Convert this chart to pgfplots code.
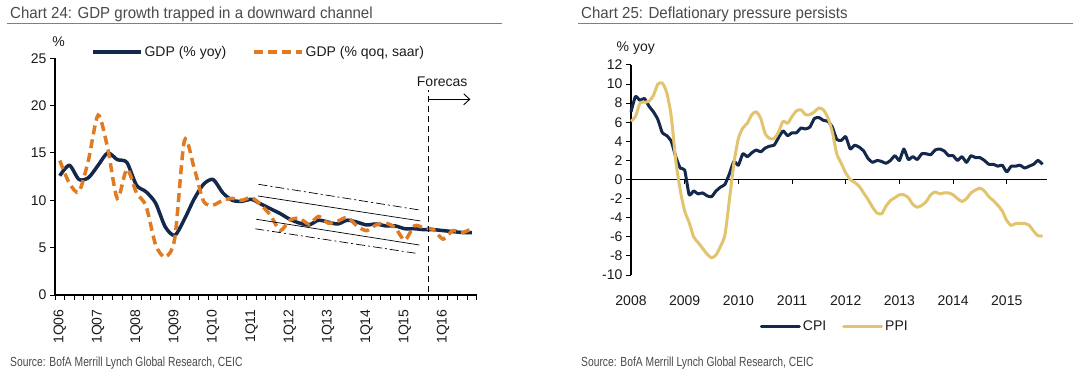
\documentclass[border=0pt]{standalone}
\usepackage{fontspec}
\setmainfont{Liberation Sans}
\newfontfamily\srcfont[FakeStretch=0.78]{Liberation Sans}
\newfontfamily\ttlfont[FakeStretch=0.94]{Liberation Sans}
\usepackage{pgfplots}
\pgfplotsset{compat=1.18}
\usepackage{pgfplotstable}
\usetikzlibrary{arrows.meta}

\definecolor{navy}{HTML}{13284A}
\definecolor{gdporange}{HTML}{E07B22}
\definecolor{ppigold}{HTML}{E2C36E}
\definecolor{rulecol}{HTML}{6A84A3}
\definecolor{txtgray}{HTML}{4A4A4A}
\definecolor{ticktxt}{HTML}{1A1A1A}

\pgfplotstableread{
q yoy qoq
0 12.6 14.2
1 13.7 11.8
2 12.2 10.9
3 12.4 14.3
4 13.7 19.0
5 15.0 15.5
6 14.3 10.2
7 14.0 13.3
8 11.6 10.8
9 10.9 9.4
10 9.7 5.3
11 7.2 4.0
12 6.3 6.0
13 8.0 16.3
14 10.1 13.5
15 11.7 9.9
16 12.2 9.5
17 10.8 10.0
18 10.0 10.2
19 9.9 10.0
20 10.1 10.3
21 9.6 9.5
22 9.1 8.4
23 8.6 6.8
24 8.0 7.9
25 7.6 8.1
26 7.4 7.5
27 7.9 8.3
28 7.7 7.6
29 7.5 7.8
30 7.9 8.2
31 7.7 7.3
32 7.4 6.8
33 7.5 7.4
34 7.3 7.6
35 7.3 7.1
36 7.0 5.8
37 7.0 7.3
38 6.9 7.1
39 6.9 6.9
40 6.8 5.9
41 6.7 6.8
42 6.6 6.6
43 6.6 7.0
}\gdp

\pgfplotstableread{
cpi ppi
7.1 6.1
8.7 6.6
8.3 8.0
8.5 8.1
7.7 8.2
7.1 8.8
6.3 10.0
4.9 10.1
4.6 9.1
4.0 6.6
2.4 2.0
1.2 -1.1
1.0 -3.3
-1.6 -4.5
-1.2 -6.0
-1.5 -6.6
-1.4 -7.2
-1.7 -7.8
-1.8 -8.2
-1.2 -7.9
-0.8 -7.0
-0.5 -5.8
0.6 -2.1
1.9 1.7
1.5 4.3
2.7 5.4
2.4 5.9
2.8 6.8
3.1 7.1
2.9 6.4
3.3 4.8
3.5 4.3
3.6 4.3
4.4 5.0
5.1 6.1
4.6 5.9
4.9 6.6
4.9 7.2
5.4 7.3
5.3 6.8
5.5 6.8
6.4 7.1
6.5 7.5
6.2 7.3
6.1 6.5
5.5 5.0
4.2 2.7
4.1 1.7
4.5 0.7
3.2 0.0
3.6 -0.3
3.4 -0.7
3.0 -1.4
2.2 -2.1
1.8 -2.9
2.0 -3.5
1.9 -3.6
1.7 -2.8
2.0 -2.2
2.5 -1.9
2.0 -1.6
3.2 -1.6
2.1 -1.9
2.4 -2.6
2.1 -2.9
2.7 -2.7
2.7 -2.3
2.6 -1.6
3.1 -1.3
3.2 -1.5
3.0 -1.4
2.5 -1.4
2.5 -1.6
2.0 -2.0
2.4 -2.3
1.8 -2.0
2.5 -1.4
2.3 -1.1
2.3 -0.9
2.0 -1.2
1.6 -1.8
1.6 -2.2
1.4 -2.7
1.5 -3.3
0.8 -4.3
1.4 -4.8
1.4 -4.6
1.5 -4.6
1.2 -4.6
1.4 -4.8
1.6 -5.4
2.0 -5.9
1.6 -5.9
}\prices

\begin{document}
\begin{tikzpicture}
\useasboundingbox (0pt,0pt) rectangle (1081pt,383pt);

% ---------- titles and rules ----------
\node[anchor=base west, inner sep=0, text=txtgray, font=\ttlfont\fontsize{16}{18}\selectfont] at (10pt,364.5pt) {Chart 24: GDP growth trapped in a downward channel};
\draw[rulecol, line width=1.5pt] (7pt,359.6pt) -- (502pt,359.6pt);
\node[anchor=base west, inner sep=0, text=txtgray, font=\ttlfont\fontsize{16}{18}\selectfont] at (581pt,364.5pt) {Chart 25: Deflationary pressure persists};
\draw[rulecol, line width=1.5pt] (578pt,359.6pt) -- (1073pt,359.6pt);

% ---------- sources ----------
\node[anchor=base west, inner sep=0, text=txtgray, font=\srcfont\fontsize{13.2}{15}\selectfont] at (10pt,16.5pt) {Source: BofA Merrill Lynch Global Research, CEIC};
\node[anchor=base west, inner sep=0, text=txtgray, font=\srcfont\fontsize{13.2}{15}\selectfont] at (581pt,16.5pt) {Source: BofA Merrill Lynch Global Research, CEIC};

% ---------- unit labels ----------
\node[anchor=center, inner sep=0, text=ticktxt, font=\fontsize{14}{16}\selectfont] at (58.5pt,341pt) {\%};
\node[anchor=west, inner sep=0, text=ticktxt, font=\fontsize{14}{16}\selectfont] at (616.5pt,334.7pt) {\% yoy};

% ================= LEFT CHART =================
\begin{axis}[
  at={(55pt,88pt)}, anchor=south west, scale only axis,
  width=421.7pt, height=236.7pt,
  xmin=-0.5, xmax=43.5, ymin=0, ymax=25,
  axis x line=bottom, axis y line=left,
  axis line style={-, black, line width=1.1pt},
  tick align=outside,
  ytick={0,5,10,15,20,25},
  major tick length=5pt, minor tick length=5pt,
  ytick style={black, line width=1pt},
  xtick={0,4,...,40},
  xticklabels={1Q06,1Q07,1Q08,1Q09,1Q10,1Q11,1Q12,1Q13,1Q14,1Q15,1Q16},
  major x tick style={draw=none},
  minor xtick={-0.5,0.5,...,43.5},
  minor x tick style={black, line width=1pt},
  xticklabel style={rotate=90, anchor=east},
  xticklabel shift=6pt,
  tick label style={font=\fontsize{14}{16}\selectfont, text=ticktxt},
  /pgf/number format/assume math mode=true,
  clip=false,
  legend style={at={(0.085,1.027)}, anchor=west, draw=none, fill=none,
    legend columns=2, font=\fontsize{14}{16}\selectfont, text=ticktxt,
    inner sep=0pt,
    /tikz/every even column/.append style={column sep=24pt}},
  legend cell align=left,
  legend image code/.code={\draw[#1] (0pt,0pt) -- (48pt,0pt);},
]
\addplot[navy, line width=3.5pt, smooth, tension=0.45, line join=round] table[x=q, y=yoy] {\gdp};
\addlegendentry{GDP (\% yoy)}
\addplot[gdporange, line width=3.5pt, smooth, tension=0.45, dash pattern=on 9pt off 5pt] table[x=q, y=qoq] {\gdp};
\addlegendentry{GDP (\% qoq, saar)}
% channel lines
\addplot[black, line width=0.7pt, forget plot] coordinates {(20.67,10.46) (37.63,7.82)};
\addplot[black, line width=0.7pt, forget plot] coordinates {(20.5,8.0) (37.52,5.28)};
\addplot[black, line width=0.7pt, dash pattern=on 9pt off 3pt on 2pt off 3pt, forget plot] coordinates {(20.73,11.69) (37.52,8.98)};
\addplot[black, line width=0.7pt, dash pattern=on 9pt off 3pt on 2pt off 3pt, forget plot] coordinates {(20.4,6.99) (37.2,4.4)};
% forecast marker
\draw[black, line width=0.9pt, dash pattern=on 6pt off 4pt] (axis cs:38.5,0.3) -- (axis cs:38.5,21.6);
\draw[black, line width=0.9pt, -{Straight Barb[length=6pt, width=11pt]}] (axis cs:38.5,20.67) -- (axis cs:42.84,20.67);
\node[font=\fontsize{14}{16}\selectfont, text=ticktxt, inner sep=0] at (axis cs:39.9,22.5) {Forecas};
\end{axis}

% ================= RIGHT CHART =================
\begin{axis}[
  at={(631pt,108pt)}, anchor=south west, scale only axis,
  width=416pt, height=210pt,
  xmin=0, xmax=7.75, ymin=-10, ymax=12,
  axis x line=bottom, axis y line=left,
  axis line style={-, black, line width=1.1pt},
  x axis line style={draw=none},
  tick align=outside,
  major tick length=5pt,
  ytick={-10,-8,...,12},
  ytick style={black, line width=1pt},
  xtick={0,1,2,3,4,5,6,7},
  xticklabels={2008,2009,2010,2011,2012,2013,2014,2015},
  xtick style={draw=none},
  xticklabel shift=12pt,
  tick label style={font=\fontsize{14}{16}\selectfont, text=ticktxt},
  /pgf/number format/assume math mode=true,
  clip=false,
  legend style={at={(0.49,-0.245)}, anchor=center, draw=none, fill=none,
    legend columns=2, font=\fontsize{14}{16}\selectfont, text=ticktxt,
    inner sep=0pt,
    /tikz/every even column/.append style={column sep=14pt}},
  legend image code/.code={\draw[#1, line cap=round] (0pt,0pt) -- (38pt,0pt);},
]
\draw[black, line width=1.1pt] (axis cs:0,0) -- (axis cs:7.75,0);
\draw[black, line width=1pt] (axis cs:1,0) -- ++(0pt,-4pt);
\draw[black, line width=1pt] (axis cs:2,0) -- ++(0pt,-4pt);
\draw[black, line width=1pt] (axis cs:3,0) -- ++(0pt,-4pt);
\draw[black, line width=1pt] (axis cs:4,0) -- ++(0pt,-4pt);
\draw[black, line width=1pt] (axis cs:5,0) -- ++(0pt,-4pt);
\draw[black, line width=1pt] (axis cs:6,0) -- ++(0pt,-4pt);
\draw[black, line width=1pt] (axis cs:7,0) -- ++(0pt,-4pt);
\addplot[navy, line width=3pt, smooth, tension=0.3, line join=round] table[x expr={\coordindex/12}, y=cpi] {\prices};
\addlegendentry{CPI}
\addplot[ppigold, line width=3pt, smooth, tension=0.4, line join=round] table[x expr={\coordindex/12}, y=ppi] {\prices};
\addlegendentry{PPI}
\end{axis}
\end{tikzpicture}
\end{document}
